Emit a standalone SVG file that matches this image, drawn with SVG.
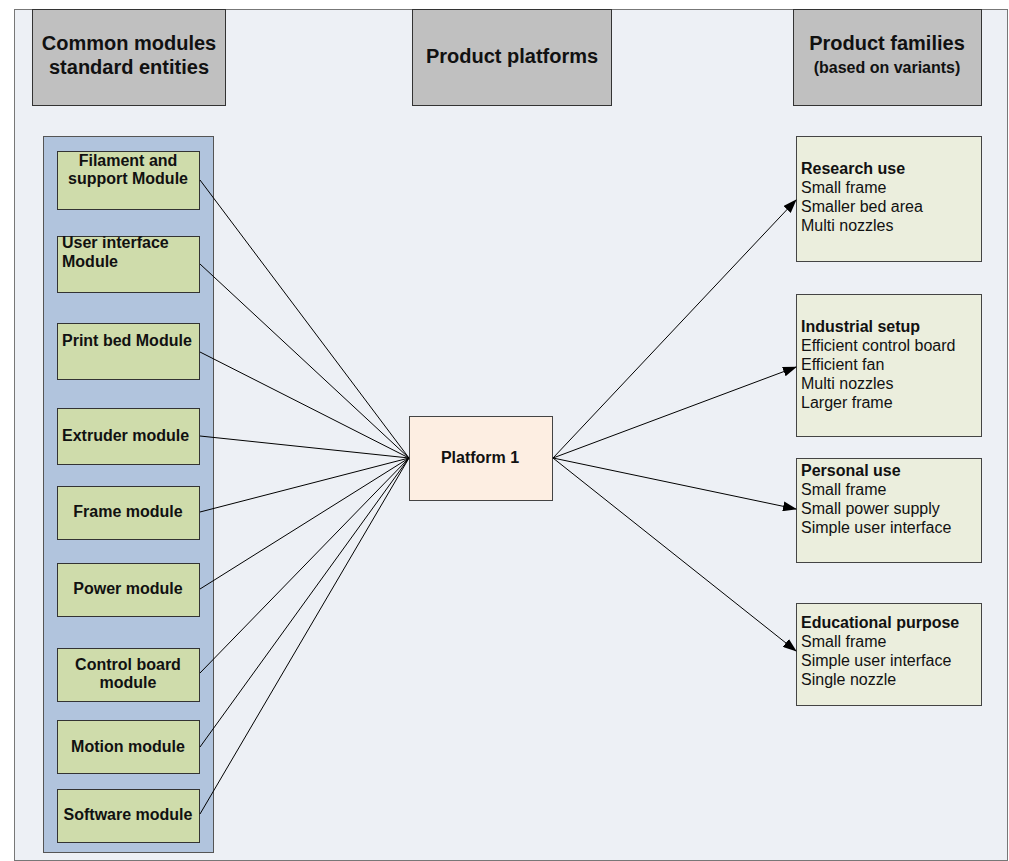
<svg xmlns="http://www.w3.org/2000/svg" width="1009" height="861" viewBox="0 0 1009 861">
<defs>
<style>
.hdr{fill:#c0c0c0;stroke:#333;stroke-width:1}
.ht{font-family:"Liberation Sans",Arial,sans-serif;font-weight:bold;font-size:20px;fill:#111;text-anchor:middle}
.hs{font-size:16px}
.mod{fill:#cfdcab;stroke:#333;stroke-width:1}
.mt{font-family:"Liberation Sans",Arial,sans-serif;font-weight:bold;font-size:16px;fill:#111}
.c{text-anchor:middle}
.fam{fill:#ebeedd;stroke:#444;stroke-width:1}
.ft{font-family:"Liberation Sans",Arial,sans-serif;font-size:16px;fill:#111}
.b{font-weight:bold}
.edge{stroke:#000;stroke-width:1;fill:none}
</style>
<marker id="arr" markerWidth="14" markerHeight="10" refX="13" refY="5" orient="auto" markerUnits="userSpaceOnUse">
<path d="M0,0 L14,5 L0,10 z" fill="#000"/>
</marker>
</defs>
<rect x="0" y="0" width="1009" height="861" fill="#fff"/>
<rect id="panel" x="14.5" y="9.5" width="993" height="851" fill="#edf0f5" stroke="#777" stroke-width="1"/>

<g id="hdr-common"><rect class="hdr" x="32.5" y="9.5" width="193" height="96"/><text class="ht" x="129" y="50">Common modules</text><text class="ht" x="129" y="74">standard entities</text></g>
<g id="hdr-platforms"><rect class="hdr" x="412.5" y="9.5" width="199" height="96"/><text class="ht" x="512" y="63">Product platforms</text></g>
<g id="hdr-families"><rect class="hdr" x="793.5" y="9.5" width="188" height="96"/><text class="ht" x="887" y="50">Product families</text><text class="ht hs" x="887" y="73">(based on variants)</text></g>

<g id="modules-container"><rect x="43.5" y="136.5" width="170" height="716" fill="#b1c4dd" stroke="#555" stroke-width="1"/></g>

<g id="m-filament"><rect class="mod" x="57.5" y="151.5" width="142" height="58"/><text class="mt c" x="128" y="166">Filament and</text><text class="mt c" x="128" y="184">support Module</text></g>
<g id="m-ui"><rect class="mod" x="57.5" y="236.5" width="142" height="56"/><text class="mt" x="62" y="248">User interface</text><text class="mt" x="62" y="267">Module</text></g>
<g id="m-printbed"><rect class="mod" x="57.5" y="323.5" width="142" height="56"/><text class="mt" x="62" y="346">Print bed Module</text></g>
<g id="m-extruder"><rect class="mod" x="57.5" y="408.5" width="142" height="56"/><text class="mt" x="62" y="441">Extruder module</text></g>
<g id="m-frame"><rect class="mod" x="57.5" y="486.5" width="142" height="53"/><text class="mt c" x="128" y="517">Frame module</text></g>
<g id="m-power"><rect class="mod" x="57.5" y="563.5" width="142" height="53"/><text class="mt c" x="128" y="594">Power module</text></g>
<g id="m-control"><rect class="mod" x="57.5" y="648.5" width="142" height="53"/><text class="mt c" x="128" y="670">Control board</text><text class="mt c" x="128" y="688">module</text></g>
<g id="m-motion"><rect class="mod" x="57.5" y="720.5" width="142" height="53"/><text class="mt c" x="128" y="752">Motion module</text></g>
<g id="m-software"><rect class="mod" x="57.5" y="789.5" width="142" height="53"/><text class="mt c" x="128" y="820">Software module</text></g>

<g id="platform1"><rect x="409.5" y="416.5" width="143" height="84" fill="#fdeee2" stroke="#444" stroke-width="1"/><text class="mt c" x="480" y="463">Platform 1</text></g>

<g id="f-research"><rect class="fam" x="796.5" y="136.5" width="185" height="125"/><text class="ft" x="801" y="174"><tspan class="b">Research use</tspan><tspan x="801" dy="19">Small frame</tspan><tspan x="801" dy="19">Smaller bed area</tspan><tspan x="801" dy="19">Multi nozzles</tspan></text></g>
<g id="f-industrial"><rect class="fam" x="796.5" y="294.5" width="185" height="142"/><text class="ft" x="801" y="332"><tspan class="b">Industrial setup</tspan><tspan x="801" dy="19">Efficient control board</tspan><tspan x="801" dy="19">Efficient fan</tspan><tspan x="801" dy="19">Multi nozzles</tspan><tspan x="801" dy="19">Larger frame</tspan></text></g>
<g id="f-personal"><rect class="fam" x="796.5" y="458.5" width="185" height="104"/><text class="ft" x="801" y="476"><tspan class="b">Personal use</tspan><tspan x="801" dy="19">Small frame</tspan><tspan x="801" dy="19">Small power supply</tspan><tspan x="801" dy="19">Simple user interface</tspan></text></g>
<g id="f-educational"><rect class="fam" x="796.5" y="603.5" width="185" height="102"/><text class="ft" x="801" y="628"><tspan class="b">Educational purpose</tspan><tspan x="801" dy="19">Small frame</tspan><tspan x="801" dy="19">Simple user interface</tspan><tspan x="801" dy="19">Single nozzle</tspan></text></g>

<g id="connectors">
<line class="edge" x1="200" y1="180" x2="409" y2="458"/>
<line class="edge" x1="200" y1="264" x2="409" y2="458"/>
<line class="edge" x1="200" y1="352" x2="409" y2="458"/>
<line class="edge" x1="200" y1="436" x2="409" y2="458"/>
<line class="edge" x1="200" y1="512" x2="409" y2="458"/>
<line class="edge" x1="200" y1="589" x2="409" y2="458"/>
<line class="edge" x1="200" y1="673" x2="409" y2="458"/>
<line class="edge" x1="200" y1="747" x2="409" y2="458"/>
<line class="edge" x1="200" y1="814" x2="409" y2="458"/>
<line class="edge" x1="553" y1="458" x2="796" y2="200" marker-end="url(#arr)"/>
<line class="edge" x1="553" y1="458" x2="796" y2="367" marker-end="url(#arr)"/>
<line class="edge" x1="553" y1="458" x2="796" y2="509" marker-end="url(#arr)"/>
<line class="edge" x1="553" y1="458" x2="796" y2="651" marker-end="url(#arr)"/>
</g>
</svg>
